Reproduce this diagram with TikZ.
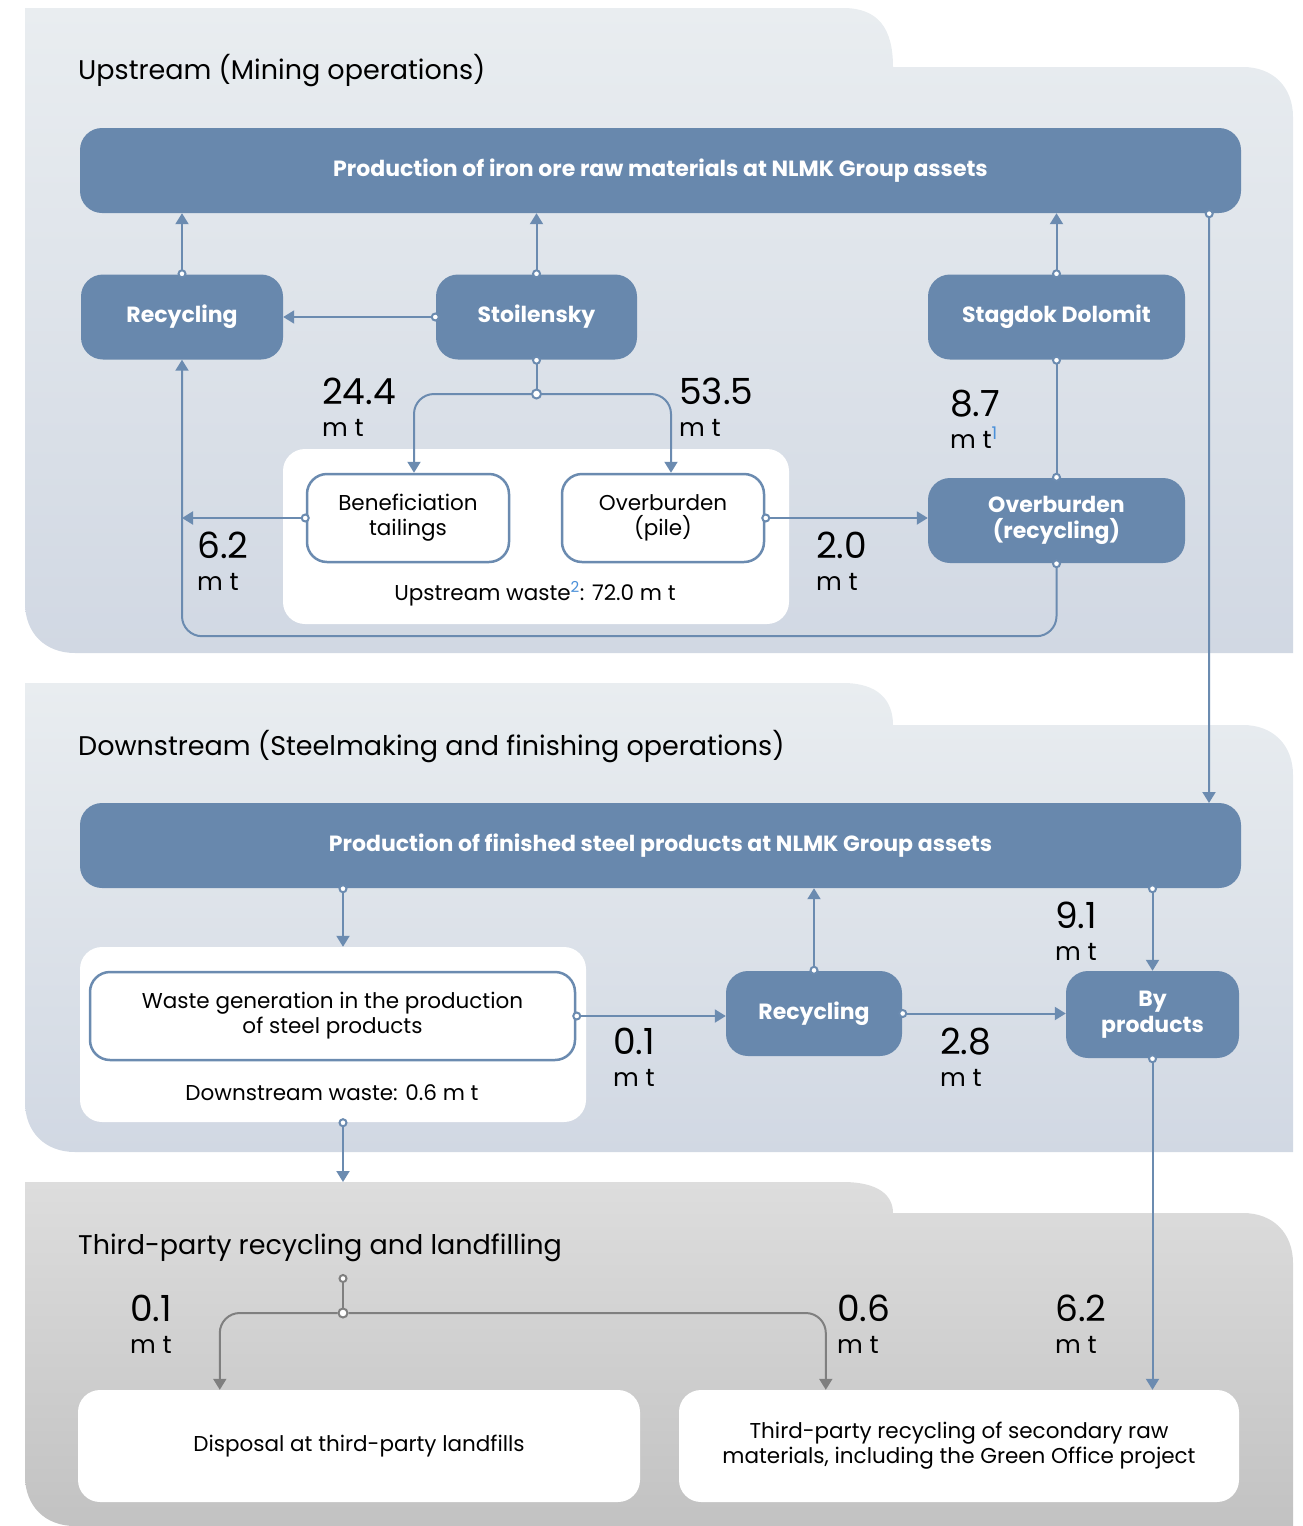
\documentclass[tikz,border=0pt]{standalone}
\usepackage{fontspec}
\setmainfont{Poppins}
\usetikzlibrary{positioning,arrows.meta}

\definecolor{boxblue}{HTML}{6888AD}
\definecolor{lineblue}{HTML}{6B8BB0}
\definecolor{supblue}{HTML}{4A90D9}
\definecolor{paneltop}{HTML}{E9EDF0}
\definecolor{panelbottom}{HTML}{D1D8E3}
\definecolor{graytop}{HTML}{DDDDDD}
\definecolor{graybottom}{HTML}{C2C2C2}
\definecolor{grayline}{HTML}{7F7F7F}

\newcommand{\mtons}{{\fontsize{25}{32}\selectfont m t}}

\begin{document}
\begin{tikzpicture}[x=1pt, y=-1pt,
    every node/.style={font=\fontsize{21.5}{25}\selectfont},
    bluebox/.style={rectangle, rounded corners=22pt, fill=boxblue, text=white, align=center,
      minimum height=85pt, font=\bfseries\fontsize{22}{26}\selectfont},
    outbox/.style={rectangle, rounded corners=20pt, draw=lineblue, line width=2.5pt, fill=white,
      align=center, minimum width=202pt, minimum height=88pt},
    whitebox/.style={rectangle, rounded corners=22pt, fill=white, align=center},
    sectitle/.style={anchor=base west, inner sep=0pt, font=\fontsize{27}{30}\selectfont},
    amount/.style={anchor=north west, inner sep=0pt, align=left, font=\fontsize{36}{32}\selectfont},
    flow/.style={draw=lineblue, line width=2pt, shorten <=-4pt,
      {Circle[fill=white,length=9pt,width=9pt]}-{Triangle[length=11pt,width=13pt]}},
    dotline/.style={draw=lineblue, line width=2pt, shorten <=-4pt,
      {Circle[fill=white,length=9pt,width=9pt]}-},
    dotboth/.style={draw=lineblue, line width=2pt, shorten <=-4pt, shorten >=-4pt,
      {Circle[fill=white,length=9pt,width=9pt]}-{Circle[fill=white,length=9pt,width=9pt]}},
    arrowline/.style={draw=lineblue, line width=2pt, -{Triangle[length=11pt,width=13pt]}},
    jdot/.style={circle, draw=lineblue, fill=white, line width=2pt, inner sep=0pt, minimum size=9pt},
    gdot/.style={circle, draw=grayline, fill=white, line width=2pt, inner sep=0pt, minimum size=9pt},
    grayflow/.style={draw=grayline, line width=2pt, shorten <=-4pt,
      {Circle[fill=white,length=9pt,width=9pt]}-},
    grayarrow/.style={draw=grayline, line width=2pt, -{Triangle[length=11pt,width=13pt]}}
  ]
  \useasboundingbox (0,0) rectangle (1303,1526);

  % panels
  \shade[top color=paneltop, bottom color=panelbottom]
    (25,8) -- (843,8) .. controls (878,8) and (893,28) .. (893,67) -- (1243,67)
    .. controls (1273,67) and (1293,87) .. (1293,117) -- (1293,653) -- (75,653)
    .. controls (45,653) and (25,633) .. (25,603) -- cycle;
  \shade[top color=paneltop, bottom color=panelbottom]
    (25,683) -- (843,683) .. controls (878,683) and (893,700) .. (893,725) -- (1243,725)
    .. controls (1273,725) and (1293,745) .. (1293,775) -- (1293,1152) -- (75,1152)
    .. controls (45,1152) and (25,1132) .. (25,1102) -- cycle;
  \shade[top color=graytop, bottom color=graybottom]
    (25,1182) -- (843,1182) .. controls (878,1182) and (893,1195) .. (893,1213) -- (1243,1213)
    .. controls (1273,1213) and (1293,1233) .. (1293,1263) -- (1293,1526) -- (75,1526)
    .. controls (45,1526) and (25,1506) .. (25,1476) -- cycle;

  % upstream
  \node[sectitle] (uptitle) at (78,79) {Upstream (Mining operations)};
  \node[bluebox, minimum width=1161pt] (topup) at (660.5,170.5) {Production of iron ore raw materials at NLMK Group assets};
  \node[bluebox, minimum width=202pt] (recup) at (182,317) {Recycling};
  \node[bluebox, minimum width=201pt] (stoil) at (536.5,317) {Stoilensky};
  \node[bluebox, minimum width=257pt] (stag) at (1056.5,317) {Stagdok Dolomit};
  \node[whitebox, minimum width=506pt, minimum height=175pt] (upwaste) at (536,536.5) {};
  \node[outbox] (ben) at (408,518) {Beneficiation\\tailings};
  \node[outbox] (pile) at (663,518) {Overburden\\(pile)};
  \node (upwastelbl) at (535,594) {Upstream waste\textsuperscript{\color{supblue}2}: 72.0 m t};
  \node[bluebox, minimum width=257pt] (obrec) at (1056.5,520.5) {Overburden\\(recycling)};
  \node[jdot] (ssplit) at (536.5,394) {};

  \node[amount] (a244) at (322,378) {24.4\\\mtons};
  \node[amount] (a535) at (679,378) {53.5\\\mtons};
  \node[amount] (a87) at (950,390) {8.7\\{\fontsize{25}{32}\selectfont m t\textsuperscript{\color{supblue}1}}};
  \node[amount] (a62) at (197,532) {6.2\\\mtons};
  \node[amount] (a20) at (816,532) {2.0\\\mtons};

  \draw[flow] (recup.north) -- (recup.north |- topup.south);
  \draw[flow] (stoil.north) -- (stoil.north |- topup.south);
  \draw[flow] (stag.north) -- (stag.north |- topup.south);
  \draw[flow] (stoil.west) -- (recup.east);
  \draw[dotline] (stoil.south) -- (ssplit);
  \draw[arrowline, rounded corners=20pt] (ssplit) -| ([xshift=6pt]ben.north);
  \draw[arrowline, rounded corners=20pt] (ssplit) -| ([xshift=8pt]pile.north);
  \draw[flow] (ben.west) -- (ben.west -| recup.south);
  \draw[flow] (pile.east) -- (pile.east -| obrec.west);
  \draw[dotboth] (stag.south) -- (obrec.north);
  \draw[flow, rounded corners=20pt] (obrec.south) -- ++(0,73) -| (recup.south);
  \draw[flow] ([xshift=-32pt]topup.south east) -- (1209,803);

  % downstream
  \node[sectitle] (downtitle) at (78,755) {Downstream (Steelmaking and finishing operations)};
  \node[bluebox, minimum width=1161pt] (topdown) at (660.5,845.5) {Production of finished steel products at NLMK Group assets};
  \node[whitebox, minimum width=506pt, minimum height=175pt] (downwaste) at (333,1034.5) {};
  \node[outbox, minimum width=485pt] (wastegen) at (332.5,1016) {Waste generation in the production\\of steel products};
  \node (downwastelbl) at (332,1093) {Downstream waste: 0.6 m t};
  \node[bluebox, minimum width=176pt] (recdown) at (814,1013.5) {Recycling};
  \node[bluebox, minimum width=173pt, minimum height=87pt] (byprod) at (1152.5,1014.5) {By\\products};
  \coordinate (dwtop) at ([xshift=10pt]downwaste.north);
  \coordinate (dwbot) at ([xshift=10pt]downwaste.south);
  \coordinate (into3) at (343,1182);

  \node[amount] (a91) at (1055,902) {9.1\\\mtons};
  \node[amount] (a01d) at (613,1028) {0.1\\\mtons};
  \node[amount] (a28) at (940,1028) {2.8\\\mtons};

  \draw[flow] (dwtop |- topdown.south) -- (dwtop);
  \draw[flow] (wastegen.east) -- (wastegen.east -| recdown.west);
  \draw[flow] (recdown.north) -- (recdown.north |- topdown.south);
  \draw[flow] (recdown.east) -- (recdown.east -| byprod.west);
  \draw[flow] (byprod.north |- topdown.south) -- (byprod.north);
  \draw[flow] (dwbot) -- (into3);

  % third party
  \node[sectitle] (thirdtitle) at (78,1254) {Third-party recycling and landfilling};
  \node[whitebox, minimum width=562pt, minimum height=112pt] (disp) at (359,1446) {Disposal at third-party landfills};
  \node[whitebox, minimum width=560pt, minimum height=112pt] (third) at (959,1446) {Third-party recycling of secondary raw\\materials, including the Green Office project};
  \coordinate (gin) at (343,1278);
  \node[gdot] (gsplit) at (343,1313) {};

  \node[amount] (a01t) at (130,1295) {0.1\\\mtons};
  \node[amount] (a06) at (837,1295) {0.6\\\mtons};
  \node[amount] (a62t) at (1055,1295) {6.2\\\mtons};

  \draw[grayflow] (gin) -- (gsplit);
  \draw[grayarrow, rounded corners=20pt] (gsplit) -| ([xshift=142pt]disp.north west);
  \draw[grayarrow, rounded corners=20pt] (gsplit) -| ([xshift=147pt]third.north west);
  \draw[flow] (byprod.south) -- (byprod.south |- third.north);
\end{tikzpicture}
\end{document}
